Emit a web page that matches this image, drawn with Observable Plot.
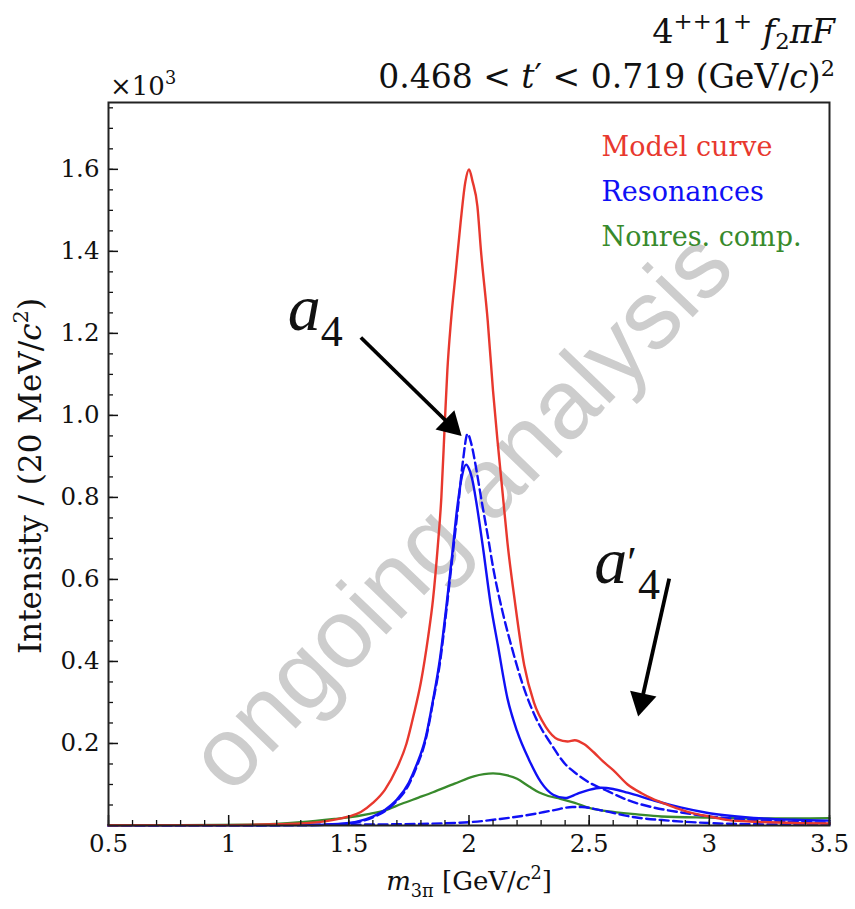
<!DOCTYPE html>
<html><head><meta charset="utf-8">
<script src="https://cdn.jsdelivr.net/npm/d3@7"></script>
<script src="https://cdn.jsdelivr.net/npm/@observablehq/plot@0.6"></script>
<style>body{margin:0;background:#fff} svg{display:block}</style>
</head><body><div id="chart"></div>
<script>
// ---------- data (values ×10^3) ----------
const modelX = [0.5,0.8,1.0,1.2,1.3,1.4,1.5,1.55,1.6,1.65,1.7,1.74,1.77,1.8,1.83,1.85,1.87,1.885,1.9,1.91,1.925,1.945,1.965,1.985,2.0,2.015,2.035,2.05,2.078,2.1,2.12,2.14,2.16,2.19,2.23,2.27,2.32,2.37,2.41,2.44,2.48,2.52,2.56,2.6,2.66,2.72,2.76,2.82,2.87,2.93,3.0,3.08,3.2,3.35,3.5];
const modelY = [0.0005,0.001,0.001,0.003,0.005,0.01,0.022,0.033,0.055,0.087,0.14,0.2,0.27,0.35,0.46,0.55,0.68,0.8,0.99,1.11,1.23,1.35,1.47,1.57,1.60,1.57,1.51,1.40,1.23,1.06,0.93,0.81,0.69,0.55,0.39,0.30,0.24,0.21,0.205,0.208,0.198,0.178,0.155,0.135,0.10,0.078,0.066,0.052,0.041,0.03,0.022,0.013,0.009,0.006,0.005];

const resX = [0.5,1.0,1.3,1.4,1.5,1.55,1.6,1.65,1.7,1.75,1.78,1.82,1.85,1.88,1.905,1.93,1.95,1.97,1.988,2.0,2.015,2.03,2.06,2.09,2.12,2.16,2.2,2.25,2.3,2.35,2.4,2.45,2.5,2.55,2.6,2.66,2.77,2.88,3.0,3.15,3.35,3.5];
const resY = [0.0003,0.0005,0.001,0.002,0.006,0.012,0.022,0.038,0.063,0.105,0.145,0.215,0.305,0.41,0.53,0.66,0.77,0.85,0.88,0.87,0.84,0.79,0.67,0.54,0.44,0.31,0.23,0.16,0.105,0.075,0.067,0.077,0.087,0.092,0.089,0.08,0.061,0.044,0.03,0.02,0.014,0.012];

const a4X = [0.5,1.0,1.3,1.4,1.5,1.55,1.6,1.65,1.7,1.75,1.78,1.82,1.85,1.88,1.905,1.93,1.955,1.975,1.994,2.01,2.03,2.05,2.08,2.1,2.14,2.18,2.22,2.28,2.34,2.4,2.45,2.5,2.58,2.66,2.76,2.88,3.0,3.2,3.5];
const a4Y = [0.0003,0.0005,0.001,0.002,0.005,0.01,0.02,0.035,0.06,0.1,0.14,0.21,0.3,0.4,0.52,0.65,0.78,0.89,0.955,0.93,0.87,0.80,0.70,0.63,0.52,0.43,0.35,0.26,0.2,0.15,0.125,0.105,0.083,0.062,0.045,0.032,0.022,0.013,0.007];

const a4pX = [0.5,1.0,1.5,1.8,2.0,2.13,2.27,2.35,2.43,2.47,2.55,2.69,2.83,3.04,3.2,3.5];
const a4pY = [0.0,0.0005,0.002,0.004,0.008,0.016,0.028,0.037,0.045,0.045,0.037,0.02,0.012,0.005,0.003,0.002];

const nonresX = [0.5,0.8,1.1,1.3,1.44,1.5,1.58,1.65,1.72,1.79,1.85,1.94,2.02,2.1,2.16,2.2,2.25,2.29,2.33,2.38,2.44,2.5,2.6,2.7,2.8,3.0,3.2,3.5];
const nonresY = [0.0005,0.001,0.002,0.008,0.016,0.02,0.028,0.037,0.053,0.068,0.081,0.102,0.12,0.127,0.122,0.114,0.095,0.081,0.072,0.065,0.055,0.043,0.033,0.027,0.022,0.019,0.017,0.018];

const xMajor = [0.5,1,1.5,2,2.5,3,3.5];
const xMinor = d3.range(5,36).map(d => d/10);
const yMajor = [0.2,0.4,0.6,0.8,1.0,1.2,1.4,1.6];
const yMinor = d3.range(1,36).map(d => d*0.05);

const legendLabels = ["Model curve","Resonances","Nonres. comp."];
const legendColors = ["#e8382e","#1010f5","#388a2c"];

const wmText = ["ongoing analysis"];
const wmX = [1.968];
const wmY = [0.765];

// annotations: label anchor and arrows (tail -> head)
const annLabels = ["a4","a4'"];
const annX = [1.362, 2.66];
const annY = [1.207, 0.590];
const arrowX1 = [1.55, 2.833];
const arrowY1 = [1.190, 0.602];
const arrowX2 = [1.923, 2.718];
const arrowY2 = [0.976, 0.303];

// ---------- layout ----------
const W = 855, H = 909, ML = 108, MR = 26, MT = 102, MB = 84;
const xDomain = [0.5, 3.5], yDomain = [0, 1.763];
const sx = Plot.scale({x: {domain: xDomain, range: [ML, W - MR]}});
const sy = Plot.scale({y: {domain: yDomain, range: [H - MB, MT]}});

const toRows = (xs, ys) => xs.map((x, i) => ({x, y: ys[i]}));
const series = [
  {rows: toRows(nonresX, nonresY), color: legendColors[2], dash: null, w: 2.3},
  {rows: toRows(a4pX, a4pY), color: legendColors[1], dash: "9,4.5", w: 2.4},
  {rows: toRows(a4X, a4Y), color: legendColors[1], dash: "9,4.5", w: 2.4},
  {rows: toRows(resX, resY), color: legendColors[1], dash: null, w: 2.4},
  {rows: toRows(modelX, modelY), color: legendColors[0], dash: null, w: 2.4}
];
const arrows = arrowX1.map((x1, i) => ({x1, y1: arrowY1[i], x2: arrowX2[i], y2: arrowY2[i]}));
const angleOf = d => {
  const dx = sx.apply(d.x2) - sx.apply(d.x1), dy = sy.apply(d.y2) - sy.apply(d.y1);
  return Math.atan2(dx, -dy) * 180 / Math.PI;
};
const serif = "DejaVu Serif";

const plot = Plot.plot({
  width: W, height: H,
  marginLeft: ML, marginRight: MR, marginTop: MT, marginBottom: MB,
  x: {domain: xDomain},
  y: {domain: yDomain},
  style: {fontFamily: serif, background: "white", color: "#111"},
  marks: [
    Plot.text(wmText.map((t, i) => ({t, x: wmX[i], y: wmY[i]})), {
      x: "x", y: "y", text: "t", rotate: -46, fontSize: 98,
      fontFamily: "Liberation Sans", fill: "#cdcdcd"
    }),
    ...series.map(s => Plot.line(s.rows, {
      x: "x", y: "y", stroke: s.color, strokeWidth: s.w,
      strokeDasharray: s.dash, curve: "monotone-x"
    })),
    Plot.axisX({ticks: xMinor, tickSize: -5, tickFormat: () => "", label: null, strokeWidth: 1.3}),
    Plot.axisX({ticks: xMajor, tickSize: -10, tickPadding: 19, label: null, strokeWidth: 1.5,
      fontSize: 24.5, fontFamily: serif, tickFormat: d => String(d)}),
    Plot.axisY({ticks: yMinor, tickSize: -5, tickFormat: () => "", label: null, strokeWidth: 1.3}),
    Plot.axisY({ticks: yMajor, tickSize: -10, tickPadding: 19, label: null, strokeWidth: 1.5,
      fontSize: 24.5, fontFamily: serif, tickFormat: d3.format(".1f")}),
    Plot.frame({strokeWidth: 2, stroke: "#222"}),
    ...legendLabels.map((lab, i) => Plot.text([lab], {
      frameAnchor: "top-left", dx: 493, dy: 53 + 45 * i, text: d => d,
      textAnchor: "start", lineAnchor: "bottom", fill: legendColors[i],
      fontSize: 27, fontFamily: serif
    })),
    Plot.link(arrows, {x1: "x1", y1: "y1", x2: "x2", y2: "y2", stroke: "black", strokeWidth: 3.8}),
    Plot.dot(arrows, {x: "x2", y: "y2", symbol: "triangle", r: 10, fill: "black", stroke: "none", rotate: angleOf})
  ]
});

document.getElementById("chart").appendChild(plot);

// ---------- rich text (titles, axis labels, annotations) ----------
const svg = d3.select(plot);
function rich(x, y, anchor, size, parts, transform, opts = {}) {
  const t = svg.append("text")
    .attr("x", x).attr("y", y)
    .attr("text-anchor", anchor)
    .attr("font-family", opts.family || serif)
    .attr("font-size", size)
    .attr("fill", "#111");
  if (transform) t.attr("transform", transform);
  const supK = opts.sup ?? 0.42, subK = opts.sub ?? 0.25;
  let shift = 0;
  for (const p of parts) {
    const [txt, kind] = p;
    const s = t.append("tspan").text(txt);
    let target = 0, fs = size;
    if (kind && kind.includes("sup")) { target = -supK * size; fs = size * 0.68; }
    if (kind && kind.includes("sub")) { target = subK * size; fs = size * 0.68; }
    s.attr("font-size", fs).attr("dy", target - shift);
    shift = target;
    if (kind && kind.includes("it")) s.attr("font-style", "italic");
  }
  return t;
}
rich(835, 43, "end", 33.5, [["4"],["++","sup"],["1"],["+","sup"],[" f","it"],["2","sub"],["π","it"],["F","it"]], null, {sub: 0.18});
rich(835, 88, "end", 33, [["0.468 < "],["t","it"],["′"],[" < 0.719 (GeV/"],["c","it"],[")"],["2","sup"]], null, {sup: 0.36});
rich(110, 95, "start", 26, [["×10"],["3","sup"]]);
rich(469, 890, "middle", 26, [["m","it"],["3π","sub"],[" [GeV/"],["c","it"],["2","sup"],["]"]]);
rich(0, 0, "middle", 31, [["Intensity / (20 MeV/"],["c","it"],["2","sup"],[")"]], "translate(41,476) rotate(-90)");

// annotation labels a4 and a'4 (one text element each), positioned through the scales
annLabels.forEach((lab, i) => {
  const x = sx.apply(annX[i]), y = sy.apply(annY[i]);
  const t = svg.append("text").attr("x", x).attr("y", y).attr("text-anchor", "middle")
    .attr("font-family", "Liberation Serif").attr("fill", "#111");
  t.append("tspan").attr("font-style", "italic").attr("font-size", 66).text("a");
  if (lab.endsWith("'")) {
    t.append("tspan").attr("font-size", 44).attr("dy", -6).text("′");
    t.append("tspan").attr("font-size", 44).attr("dx", 1).attr("dy", 22).text("4");
  } else {
    t.append("tspan").attr("font-size", 44).attr("dy", 16).text("4");
  }
});
</script>
</body></html>
